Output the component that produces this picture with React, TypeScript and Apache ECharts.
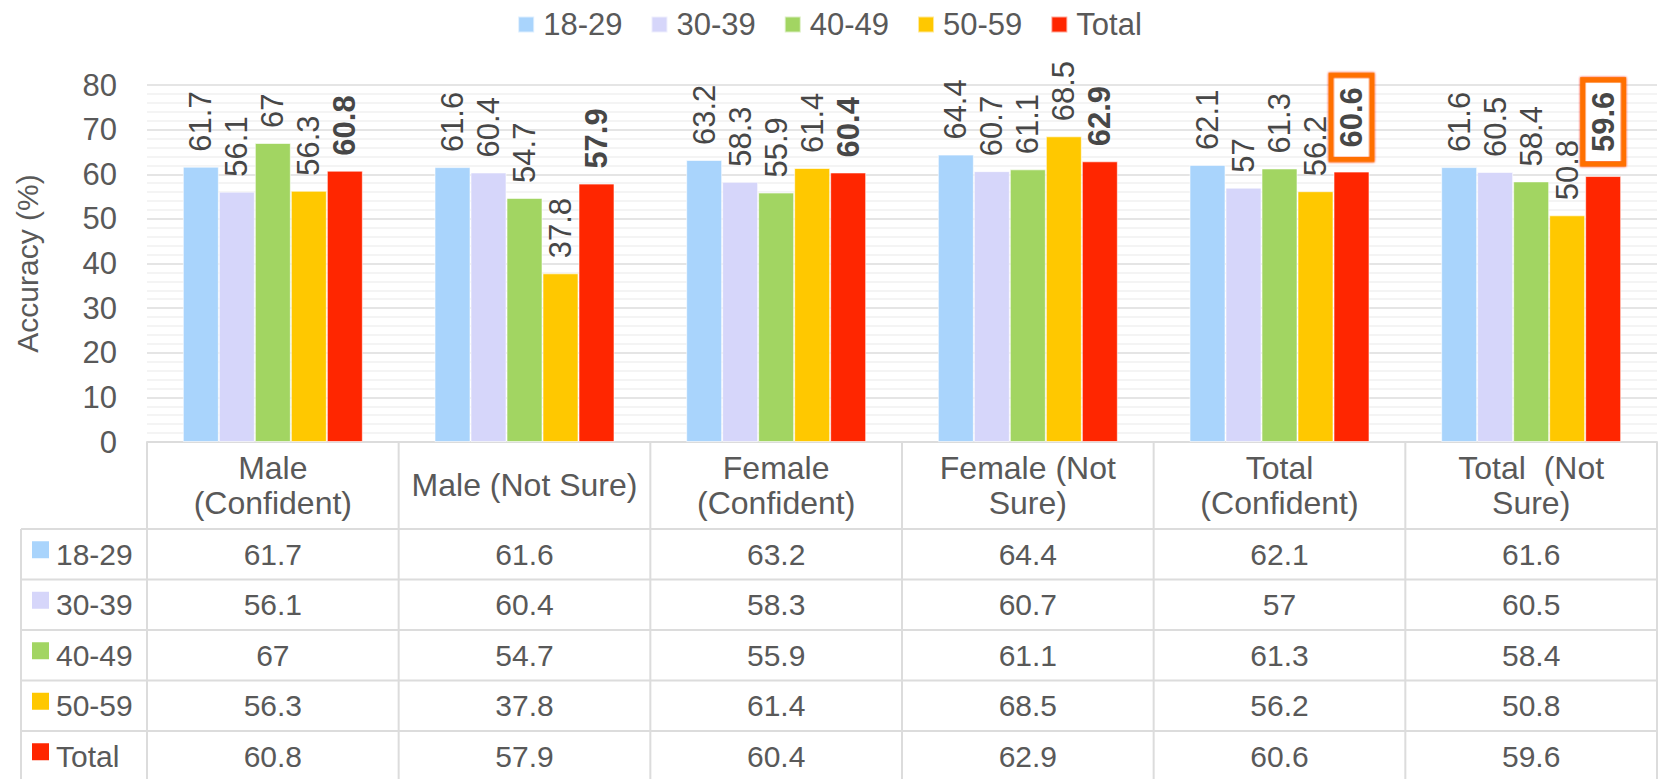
import React, { useEffect, useRef } from "react";
import * as echarts from "echarts";

// Categories (header row of the data table)
const categories = [
  "Male\n(Confident)",
  "Male (Not Sure)",
  "Female\n(Confident)",
  "Female (Not\nSure)",
  "Total\n(Confident)",
  "Total  (Not\nSure)",
];

const seriesNames = ["18-29", "30-39", "40-49", "50-59", "Total"];
const seriesColors = ["#A9D4FC", "#D6D6FA", "#A2D562", "#FFC800", "#FF2600"];

// Accuracy (%) per age group
const age18to29 = [61.7, 61.6, 63.2, 64.4, 62.1, 61.6];
const age30to39 = [56.1, 60.4, 58.3, 60.7, 57, 60.5];
const age40to49 = [67, 54.7, 55.9, 61.1, 61.3, 58.4];
const age50to59 = [56.3, 37.8, 61.4, 68.5, 56.2, 50.8];
const totals = [60.8, 57.9, 60.4, 62.9, 60.6, 59.6];

// Total values drawn with a framed label
const framedTotals = [4, 5];

const yMin = 0;
const yMax = 80;
const yInterval = 10;

const W = 1659;
const H = 779;
const FONT = "'Liberation Sans', Arial, sans-serif";
const TEXT = "#595959";
const LABEL = "#474747";
const LINE = "#DCDCDC";

export default function App() {
  const ref = useRef<HTMLDivElement>(null);

  useEffect(() => {
    if (!ref.current) return;
    const chart = echarts.init(ref.current, undefined, { renderer: "svg" });

    const gridLeft = 147;
    const gridRight = 2;
    const gridTop = 85;
    const axisY = 442;
    const gridBottom = H - axisY;
    const plotW = W - gridLeft - gridRight;
    const colW = plotW / categories.length;
    const headerBottom = 529;
    const rowH = 50.5;
    const tableLeft = 21;
    const tableRight = W - gridRight;

    const allSeries = [age18to29, age30to39, age40to49, age50to59, totals];

    const graphics: any[] = [];
    const lineStyle = { stroke: LINE, lineWidth: 2 };

    // vertical table rules
    graphics.push({
      type: "line",
      shape: { x1: tableLeft, y1: headerBottom, x2: tableLeft, y2: H },
      style: lineStyle,
    });
    for (let i = 0; i <= categories.length; i++) {
      const x = gridLeft + colW * i;
      graphics.push({
        type: "line",
        shape: { x1: x, y1: axisY, x2: x, y2: H },
        style: lineStyle,
      });
    }
    // horizontal table rules
    for (let r = 0; r < seriesNames.length; r++) {
      const y = headerBottom + r * rowH;
      graphics.push({
        type: "line",
        shape: { x1: tableLeft, y1: y, x2: tableRight, y2: y },
        style: lineStyle,
      });
    }
    // row legend keys, names and values
    seriesNames.forEach((name, r) => {
      const cy = headerBottom + r * rowH + rowH / 2;
      graphics.push({
        type: "rect",
        shape: { x: 32, y: cy - 13, width: 17, height: 17 },
        style: { fill: seriesColors[r] },
      });
      graphics.push({
        type: "text",
        x: 56,
        y: cy,
        style: {
          text: name,
          fill: TEXT,
          font: `30px ${FONT}`,
          align: "left",
          verticalAlign: "middle",
        },
      });
      allSeries[r].forEach((v, c) => {
        graphics.push({
          type: "text",
          x: gridLeft + colW * c + colW / 2,
          y: cy,
          style: {
            text: String(v),
            fill: TEXT,
            font: `30px ${FONT}`,
            align: "center",
            verticalAlign: "middle",
          },
        });
      });
    });

    const baseLabel = {
      show: true,
      position: "top",
      distance: 15,
      rotate: 90,
      align: "left",
      verticalAlign: "middle",
      fontSize: 31,
      fontFamily: FONT,
      color: LABEL,
    };

    const series = allSeries.map((vals, s) => {
      const isTotal = s === allSeries.length - 1;
      return {
        name: seriesNames[s],
        type: "bar",
        barWidth: 36,
        barGap: "0%",
        itemStyle: {
          color: seriesColors[s],
          borderColor: "rgba(255,255,255,0.6)",
          borderWidth: 1,
        },
        label: {
          ...baseLabel,
          fontWeight: isTotal ? "bold" : "normal",
        },
        data: vals.map((v, i) => {
          if (isTotal && framedTotals.includes(i)) {
            // orange frame with a red glow around a white field
            return {
              value: v,
              label: {
                ...baseLabel,
                distance: 15,
                formatter: "{inner|{c}}",
                padding: 0,
                rich: {
                  inner: {
                    fontSize: 31,
                    fontWeight: "bold",
                    fontFamily: FONT,
                    color: LABEL,
                    lineHeight: 28,
                    padding: [2, 9, 2, 9],
                    backgroundColor: "#ffffff",
                    borderColor: "#FF7000",
                    borderWidth: 5.5,
                    shadowColor: "#FF2000",
                    shadowBlur: 2,
                  },
                },
              },
            };
          }
          return v;
        }),
      };
    });

    chart.setOption({
      animation: false,
      textStyle: { fontFamily: FONT },
      legend: {
        top: 4,
        left: "center",
        icon: "rect",
        itemWidth: 16,
        itemHeight: 16,
        itemGap: 28,
        textStyle: {
          fontSize: 31,
          color: TEXT,
          fontFamily: FONT,
          padding: [0, 0, 0, 4],
        },
        data: seriesNames,
      },
      grid: {
        left: gridLeft,
        right: gridRight,
        top: gridTop,
        bottom: gridBottom,
        containLabel: false,
      },
      xAxis: {
        type: "category",
        data: categories,
        axisTick: { show: false },
        axisLine: { show: true, lineStyle: { color: LINE, width: 2 } },
        axisLabel: {
          interval: 0,
          margin: 43,
          verticalAlign: "middle",
          fontSize: 32,
          lineHeight: 35,
          color: TEXT,
          fontFamily: FONT,
        },
      },
      yAxis: {
        type: "value",
        min: yMin,
        max: yMax,
        interval: yInterval,
        name: "Accuracy (%)",
        nameLocation: "middle",
        nameRotate: 90,
        nameGap: 105,
        nameTextStyle: { fontSize: 30, color: TEXT, fontFamily: FONT },
        axisLine: { show: false },
        axisTick: { show: false },
        axisLabel: {
          margin: 30,
          fontSize: 31,
          color: TEXT,
          fontFamily: FONT,
        },
        splitLine: { show: true, lineStyle: { color: "#DDDDDD", width: 1.5 } },
        minorTick: { show: false, splitNumber: 5 },
        minorSplitLine: {
          show: true,
          lineStyle: { color: "#F0F0F0", width: 1.5 },
        },
      },
      graphic: graphics,
      series,
    });

    return () => {
      chart.dispose();
    };
  }, []);

  return (
    <div
      ref={ref}
      style={{
        position: "absolute",
        left: 0,
        top: 0,
        width: W,
        height: H,
        background: "#ffffff",
      }}
    />
  );
}
